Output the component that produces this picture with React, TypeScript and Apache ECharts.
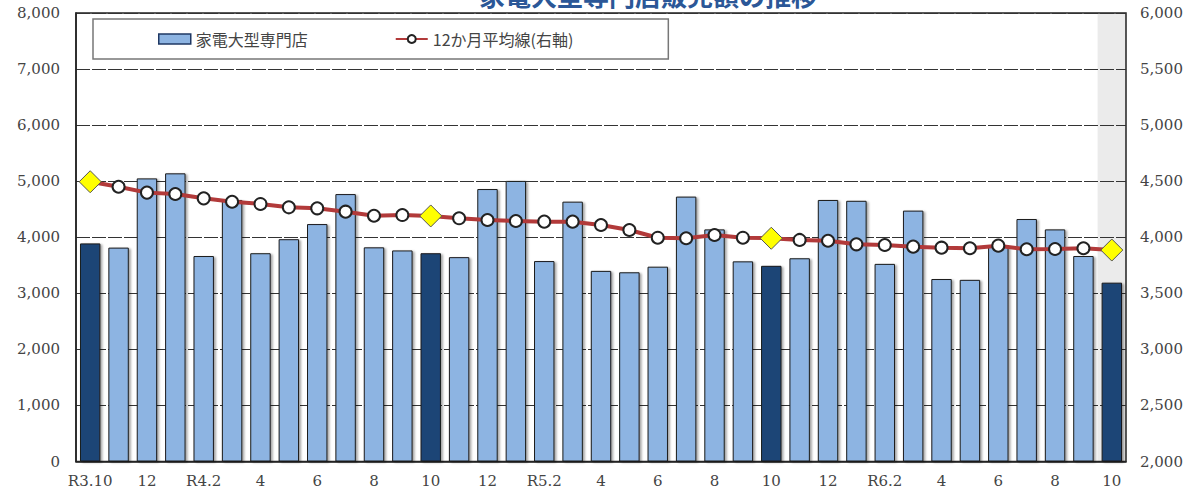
import React, { useEffect, useRef } from "react";
import * as echarts from "echarts";

const categories = [
  "R3.10", "R3.11", "R3.12", "R4.1", "R4.2", "R4.3", "R4.4", "R4.5", "R4.6", "R4.7", "R4.8", "R4.9",
  "R4.10", "R4.11", "R4.12", "R5.1", "R5.2", "R5.3", "R5.4", "R5.5", "R5.6", "R5.7", "R5.8", "R5.9",
  "R5.10", "R5.11", "R5.12", "R6.1", "R6.2", "R6.3", "R6.4", "R6.5", "R6.6", "R6.7", "R6.8", "R6.9",
  "R6.10",
];

const tickLabels = [
  "R3.10", "", "12", "", "R4.2", "", "4", "", "6", "", "8", "",
  "10", "", "12", "", "R5.2", "", "4", "", "6", "", "8", "",
  "10", "", "12", "", "R6.2", "", "4", "", "6", "", "8", "",
  "10",
];

const sales = [
  3890, 3815, 5050, 5140, 3665, 4665, 3715, 3965, 4235, 4770, 3820, 3765,
  3715, 3645, 4860, 5005, 3575, 4635, 3400, 3375, 3475, 4725, 4140, 3570,
  3490, 3625, 4665, 4650, 3525, 4475, 3255, 3240, 3830, 4325, 4140, 3665,
  3190,
];

const average12 = [
  4495, 4450, 4398, 4386, 4347, 4317, 4297, 4267, 4258, 4228, 4192, 4198,
  4190, 4169, 4154, 4145, 4139, 4139, 4109, 4065, 3996, 3991, 4020, 3996,
  3991, 3976, 3969, 3937, 3931, 3916, 3907, 3902, 3925, 3893, 3895, 3902,
  3886,
];

const highlightMonths = ["R3.10", "R4.10", "R5.10", "R6.10"];
const shadedMonth = "R6.10";

const leftTicks = { min: 0, max: 8000, interval: 1000 };
const rightTicks = { min: 2000, max: 6000, interval: 500 };

const barName = "家電大型専門店";
const lineName = "12か月平均線(右軸)";
const titleText = "家電大型専門店販売額の推移";

const serif = "DejaVu Serif";
const cjk = "Noto Sans CJK JP";

const fmt = (v: number) => v.toLocaleString("en-US");

export default function App() {
  const ref = useRef<HTMLDivElement>(null);

  useEffect(() => {
    if (!ref.current) return;
    const chart = echarts.init(ref.current, null, { renderer: "svg" });

    const barData = sales.map((v, i) =>
      highlightMonths.includes(categories[i])
        ? { value: v, itemStyle: { color: "#1F4576" } }
        : v
    );
    const lineData = average12.map((v, i) =>
      highlightMonths.includes(categories[i])
        ? {
            value: v,
            symbol: "diamond",
            symbolSize: 22,
            itemStyle: { color: "#FFFF00", borderColor: "#555", borderWidth: 1 },
          }
        : v
    );
    const shadeData = categories.map((c) => (c === shadedMonth ? leftTicks.max : null));

    chart.setOption({
      animation: false,
      backgroundColor: "#fff",
      title: {
        text: titleText,
        left: 643,
        top: -24,
        textAlign: "center",
        textStyle: { fontFamily: cjk, fontSize: 26, fontWeight: "bold", color: "#2B5797" },
      },
      legend: {
        left: 93,
        top: 19,
        padding: [12, 95, 12, 65],
        borderColor: "#777",
        borderWidth: 1.5,
        itemGap: 87,
        itemWidth: 32,
        itemHeight: 10,
        textStyle: { fontFamily: cjk, fontSize: 16, color: "#444" },
        data: [
          { name: barName, icon: "rect", itemStyle: { color: "#8DB4E2", borderColor: "#1F3864", borderWidth: 1.5 } },
          { name: lineName },
        ],
      },
      grid: {
        left: 76,
        right: 75,
        top: 13,
        bottom: 35.5,
        show: true,
        borderColor: "#222",
        borderWidth: 1.5,
        backgroundColor: "transparent",
      },
      xAxis: [
        {
          type: "category",
          data: categories,
          boundaryGap: true,
          axisLine: { show: true, lineStyle: { color: "#222", width: 1.5 } },
          axisTick: { show: false },
          axisLabel: {
            interval: 0,
            margin: 12,
            fontFamily: serif,
            fontSize: 15,
            color: "#444",
            formatter: (_v: string, i: number) => tickLabels[i],
          },
        },
        {
          type: "category",
          data: categories,
          boundaryGap: true,
          show: false,
        },
      ],
      yAxis: [
        {
          type: "value",
          ...leftTicks,
          axisLine: { show: true, lineStyle: { color: "#222", width: 1.5 } },
          axisTick: { show: false },
          splitLine: { show: true, lineStyle: { color: "#333", width: 1, type: [14, 2] } },
          axisLabel: { fontFamily: serif, fontSize: 15, color: "#444", margin: 16, formatter: fmt },
        },
        {
          type: "value",
          ...rightTicks,
          axisLine: { show: false },
          axisTick: { show: false },
          splitLine: { show: false },
          axisLabel: { fontFamily: serif, fontSize: 15, color: "#444", margin: 14, formatter: fmt },
        },
      ],
      series: [
        {
          name: "shade",
          type: "bar",
          xAxisIndex: 1,
          yAxisIndex: 0,
          data: shadeData,
          barWidth: "100%",
          itemStyle: { color: "#EBEBEB" },
          silent: true,
          z: -1,
          legendHoverLink: false,
        },
        {
          name: barName,
          type: "bar",
          xAxisIndex: 0,
          yAxisIndex: 0,
          data: barData,
          barWidth: "72%",
          itemStyle: {
            color: "#8DB4E2",
            borderColor: "#1a1a1a",
            borderWidth: 1,
            shadowColor: "rgba(0,0,0,0.35)",
            shadowOffsetX: 2,
            shadowOffsetY: 1,
            shadowBlur: 2,
          },
          z: 2,
        },
        {
          name: lineName,
          type: "line",
          xAxisIndex: 0,
          yAxisIndex: 1,
          data: lineData,
          symbol: "circle",
          symbolSize: 12,
          lineStyle: { color: "#B23A3A", width: 4 },
          itemStyle: { color: "#fff", borderColor: "#222", borderWidth: 2 },
          z: 3,
        },
      ],
    });

    return () => chart.dispose();
  }, []);

  return (
    <div
      ref={ref}
      style={{ position: "fixed", left: 0, top: 0, width: 1201, height: 497 }}
    />
  );
}
